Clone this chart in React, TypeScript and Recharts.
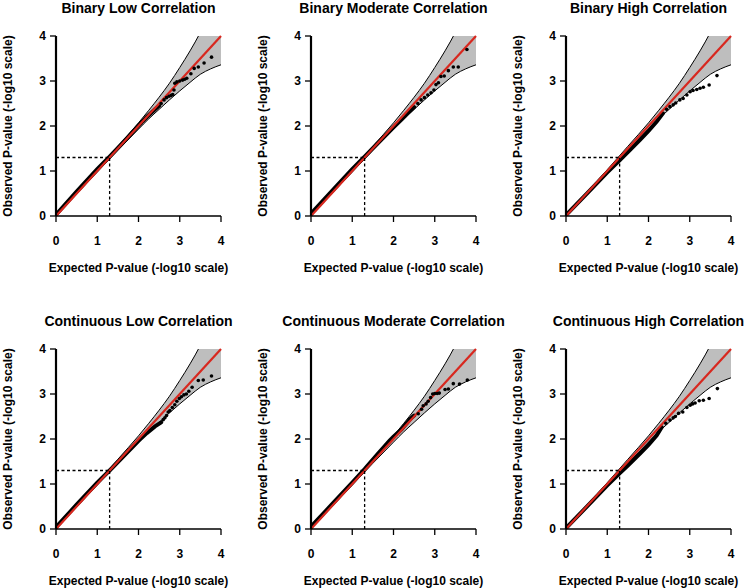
import React from 'react';
import { ComposedChart, XAxis, YAxis, Area, Line, Scatter, ReferenceLine } from 'recharts';

const FONT = '"Liberation Sans", Arial, Helvetica, sans-serif';

// axis ticks (both axes, -log10 scale)
const axisTicks = [0, 1, 2, 3, 4];
// significance threshold -log10(0.05)
const threshold = 1.3;

// 95% confidence band
const bandX = [0, 0.5, 1, 1.5, 2, 2.25, 2.5, 2.75, 3, 3.25, 3.5, 3.75, 4];
const bandUpper = [0.01, 0.52, 1.03, 1.55, 2.07, 2.35, 2.64, 2.95, 3.3, 3.67, 4.08, 4.55, 5.1];
const bandLower = [0, 0.49, 0.975, 1.46, 1.93, 2.16, 2.37, 2.58, 2.78, 2.97, 3.15, 3.27, 3.36];

const titles = [
  'Binary Low Correlation',
  'Binary Moderate Correlation',
  'Binary High Correlation',
  'Continuous Low Correlation',
  'Continuous Moderate Correlation',
  'Continuous High Correlation',
];
const xLabel = 'Expected P-value (-log10 scale)';
const yLabel = 'Observed P-value (-log10 scale)';

type Pt = [number, number];

// dense part of each QQ curve (overlapping points) [expected, observed]
const binaryLowDense: Pt[] = [[0, 0.03], [0.5, 0.54], [1, 1.04], [1.3, 1.32], [1.6, 1.61], [2, 2.01], [2.2, 2.2], [2.4, 2.37], [2.5, 2.45]];
const binaryLowTail: Pt[] = [[2.55, 2.5], [2.62, 2.58], [2.68, 2.63], [2.74, 2.66], [2.79, 2.68], [2.83, 2.7], [2.86, 2.8], [2.88, 2.95], [2.93, 2.98], [3.0, 3.0], [3.07, 3.02], [3.12, 3.04], [3.17, 3.06], [3.27, 3.16], [3.35, 3.28], [3.45, 3.31], [3.59, 3.4], [3.77, 3.53]];

const binaryModDense: Pt[] = [[0, 0.05], [0.5, 0.55], [1, 1.04], [1.3, 1.32], [1.6, 1.6], [2, 1.97], [2.2, 2.15], [2.4, 2.33], [2.5, 2.42]];
const binaryModTail: Pt[] = [[2.59, 2.5], [2.67, 2.58], [2.75, 2.63], [2.83, 2.69], [2.91, 2.74], [2.98, 2.8], [3.03, 2.92], [3.09, 2.96], [3.15, 3.1], [3.23, 3.11], [3.33, 3.23], [3.45, 3.31], [3.57, 3.31], [3.78, 3.7]];

const binaryHighDense: Pt[] = [[0, 0.02], [0.5, 0.49], [1, 0.97], [1.3, 1.24], [1.5, 1.42], [1.8, 1.7], [2, 1.89], [2.2, 2.1], [2.35, 2.28]];
const binaryHighTail: Pt[] = [[2.44, 2.37], [2.52, 2.43], [2.6, 2.47], [2.66, 2.51], [2.76, 2.58], [2.84, 2.61], [2.93, 2.69], [3.01, 2.76], [3.08, 2.79], [3.17, 2.81], [3.25, 2.84], [3.33, 2.86], [3.47, 2.91], [3.66, 3.12]];

const contLowDense: Pt[] = [[0, 0.04], [0.5, 0.54], [1, 1.03], [1.3, 1.3], [1.6, 1.58], [2, 1.96], [2.2, 2.13], [2.4, 2.28], [2.55, 2.37]];
const contLowTail: Pt[] = [[2.6, 2.43], [2.64, 2.47], [2.68, 2.52], [2.72, 2.6], [2.76, 2.63], [2.82, 2.7], [2.88, 2.76], [2.93, 2.84], [2.99, 2.9], [3.04, 2.94], [3.1, 2.98], [3.16, 3.0], [3.22, 3.06], [3.3, 3.15], [3.45, 3.3], [3.57, 3.31], [3.77, 3.4]];

const contModDense: Pt[] = [[0, 0.05], [0.5, 0.54], [1, 1.03], [1.3, 1.33], [1.6, 1.65], [1.9, 1.96], [2, 2.05], [2.2, 2.22], [2.4, 2.44], [2.5, 2.52]];
const contModTail: Pt[] = [[2.6, 2.56], [2.68, 2.66], [2.72, 2.74], [2.79, 2.78], [2.84, 2.84], [2.9, 2.92], [2.95, 3.0], [3.0, 3.01], [3.06, 3.01], [3.11, 3.02], [3.25, 3.1], [3.33, 3.11], [3.45, 3.23], [3.6, 3.22], [3.79, 3.31]];

const contHighDense: Pt[] = [[0, 0.02], [0.5, 0.49], [1, 0.97], [1.3, 1.24], [1.5, 1.41], [1.8, 1.68], [2, 1.87], [2.2, 2.08], [2.32, 2.26]];
const contHighTail: Pt[] = [[2.42, 2.35], [2.52, 2.42], [2.6, 2.47], [2.65, 2.5], [2.73, 2.57], [2.83, 2.6], [2.93, 2.7], [3.01, 2.75], [3.07, 2.78], [3.13, 2.8], [3.23, 2.85], [3.33, 2.86], [3.47, 2.9], [3.67, 3.12]];

const denseSets = [binaryLowDense, binaryModDense, binaryHighDense, contLowDense, contModDense, contHighDense];
const tailSets = [binaryLowTail, binaryModTail, binaryHighTail, contLowTail, contModTail, contHighTail];

const bandData = bandX.map((x, i) => ({ x, upper: bandUpper[i], lower: bandLower[i], range: [bandLower[i], bandUpper[i]] }));

const PW = 255; // panel width
const PH = 275; // panel height
const ROW_STEP = 313;
const PLOT_LEFT = 56;
const PLOT_TOP = 36;
const PLOT_W = 165;
const PLOT_H = 180;

const RED = '#d8281f';

const tickStyle = { fill: '#000', fontSize: 12, fontWeight: 'bold', fontFamily: FONT } as any;

const DotShape = (p: any) => <circle cx={p.cx} cy={p.cy} r={1.8} fill="#000" />;

function Panel({ idx }: { idx: number }) {
  const col = idx % 3;
  const row = Math.floor(idx / 3);
  const dense = denseSets[idx].map(([x, y]) => ({ x, y }));
  const tail = tailSets[idx].map(([x, y]) => ({ x, y }));
  const cx = PLOT_LEFT + PLOT_W / 2;
  const cy = PLOT_TOP + PLOT_H / 2;
  return (
    <div style={{ position: 'absolute', left: col * PW, top: row * ROW_STEP, width: PW, height: PH }}>
      <ComposedChart width={PW} height={PH} margin={{ top: PLOT_TOP, right: PW - PLOT_LEFT - PLOT_W, bottom: 0, left: 0 }}>
        <XAxis
          type="number"
          dataKey="x"
          domain={[0, 4]}
          ticks={axisTicks}
          allowDataOverflow
          height={PH - PLOT_TOP - PLOT_H}
          axisLine={{ stroke: '#000', strokeWidth: 1.5 }}
          tickLine={{ stroke: '#000', strokeWidth: 1.3 }}
          tickSize={6}
          tickMargin={14}
          tick={tickStyle}
          interval={0}
        />
        <YAxis
          type="number"
          domain={[0, 4]}
          ticks={axisTicks}
          allowDataOverflow
          width={PLOT_LEFT}
          axisLine={{ stroke: '#000', strokeWidth: 2.2 }}
          tickLine={{ stroke: '#000', strokeWidth: 1.3 }}
          tickSize={6}
          tickMargin={4}
          tick={tickStyle}
          interval={0}
        />
        <Area data={bandData} dataKey="range" type="monotone" fill="#bebebe" fillOpacity={1} stroke="none" isAnimationActive={false} />
        <Line data={bandData} dataKey="upper" type="monotone" stroke="#000" strokeWidth={1} dot={false} isAnimationActive={false} />
        <Line data={bandData} dataKey="lower" type="monotone" stroke="#000" strokeWidth={1} dot={false} isAnimationActive={false} />
        <Line data={dense} dataKey="y" type="linear" stroke="#000" strokeWidth={4} strokeLinecap="round" dot={false} isAnimationActive={false} />
        <Scatter data={tail} dataKey="y" shape={DotShape} isAnimationActive={false} />
        <ReferenceLine segment={[{ x: 0, y: 0 }, { x: 4, y: 4 }]} stroke={RED} strokeWidth={2.2} />
        <ReferenceLine segment={[{ x: 0, y: threshold }, { x: threshold, y: threshold }]} stroke="#000" strokeWidth={1.3} strokeDasharray="3 2.5" />
        <ReferenceLine segment={[{ x: threshold, y: 0 }, { x: threshold, y: threshold }]} stroke="#000" strokeWidth={1.3} strokeDasharray="3 2.5" />
      </ComposedChart>
      <svg
        width={PW}
        height={PH}
        style={{ position: 'absolute', left: 0, top: 0, overflow: 'visible', pointerEvents: 'none' }}
      >
        <text x={cx} y={13} textAnchor="middle" fontSize={14} fontWeight="bold" fontFamily={FONT} fill="#000">
          {titles[idx]}
        </text>
        <text x={cx} y={271.5} textAnchor="middle" fontSize={12} fontWeight="bold" fontFamily={FONT} fill="#000">
          {xLabel}
        </text>
        <text
          x={12}
          y={cy}
          textAnchor="middle"
          fontSize={12}
          fontWeight="bold"
          fontFamily={FONT}
          fill="#000"
          transform={`rotate(-90 12 ${cy})`}
        >
          {yLabel}
        </text>
      </svg>
    </div>
  );
}

export default function App() {
  return (
    <div style={{ position: 'absolute', left: 0, top: 0, width: 747, height: 588, overflow: 'hidden', background: '#fff' }}>
      {[0, 1, 2, 3, 4, 5].map((i) => (
        <Panel key={i} idx={i} />
      ))}
    </div>
  );
}
